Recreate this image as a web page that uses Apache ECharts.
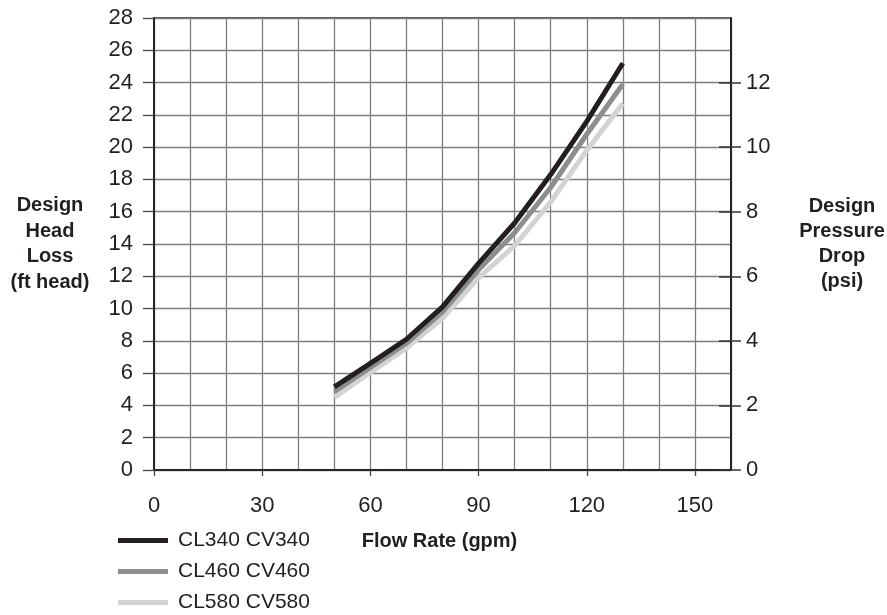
<!DOCTYPE html>
<html>
<head>
<meta charset="utf-8">
<script src="https://cdn.jsdelivr.net/npm/echarts@6/dist/echarts.min.js"></script>
<style>
html,body{margin:0;padding:0;background:#fff;}
#chart{width:887px;height:615px;}
</style>
</head>
<body>
<div id="chart"></div>
<script>
const flowRate = [50, 60, 70, 80, 90, 100, 110, 120, 130];
const cl340 = [5.15, 6.6, 8.1, 10.1, 12.8, 15.3, 18.3, 21.6, 25.2];
const cl460 = [4.85, 6.35, 7.85, 9.8, 12.4, 14.7, 17.5, 20.8, 23.9];
const cl580 = [4.5, 6.05, 7.55, 9.4, 11.9, 13.9, 16.6, 19.8, 22.7];
const seriesNames = ['CL340 CV340', 'CL460 CV460', 'CL580 CV580'];
const xTickLabels = [0, 30, 60, 90, 120, 150];
const psiTickLabels = [0, 2, 4, 6, 8, 10, 12];

const FONT = '"Liberation Sans", Arial, Helvetica, sans-serif';
const INK = '#231f20';
const colors = ['#231f20', '#8c8d8f', '#d2d3d5'];

function pairs(ys) { return flowRate.map((x, i) => [x, ys[i]]); }

function psiTickAxis(inside, len) {
  return {
    type: 'value', position: 'right', min: 0, max: 14, interval: 2, offset: 0,
    axisLine: {show: true, lineStyle: {color: INK, width: 1.5}},
    axisTick: {show: true, inside: inside, length: len, customValues: psiTickLabels, lineStyle: {color: '#333', width: 1.5}},
    axisLabel: {show: false},
    splitLine: {show: false}
  };
}

const chart = echarts.init(document.getElementById('chart'), null, {renderer: 'canvas'});
chart.setOption({
  animation: false,
  backgroundColor: '#ffffff',
  textStyle: {fontFamily: FONT, color: INK},
  grid: {left: 154, right: 156, top: 18, bottom: 145, containLabel: false, outerBoundsMode: 'none', show: true, borderColor: INK, borderWidth: 1.5, backgroundColor: 'transparent'},
  legend: {
    orient: 'vertical', left: 118, top: 530, padding: 0, itemGap: 10,
    icon: 'rect', itemWidth: 50, itemHeight: 5,
    textStyle: {fontFamily: FONT, fontSize: 21, color: INK, padding: [0, 0, 0, 5]},
    data: seriesNames
  },
  xAxis: [
    {
      type: 'value', position: 'bottom', min: 0, max: 160, interval: 10,
      axisLine: {show: true, lineStyle: {color: INK, width: 1.5}},
      axisTick: {show: false},
      axisLabel: {show: false},
      splitLine: {show: true, lineStyle: {color: '#7d7d7d', width: 1.3}}
    },
    {
      type: 'value', position: 'bottom', min: 0, max: 160, interval: 10,
      name: 'Flow Rate (gpm)', nameLocation: 'middle', nameGap: 61,
      nameTextStyle: {fontFamily: FONT, fontSize: 20, fontWeight: 'bold', color: INK, verticalAlign: 'top', padding: [0, 6, 0, 0]},
      axisLine: {show: true, lineStyle: {color: INK, width: 1.5}},
      axisTick: {show: true, length: 6, customValues: xTickLabels, lineStyle: {color: '#444', width: 1.3}},
      axisLabel: {customValues: xTickLabels, fontFamily: FONT, fontSize: 22, color: INK, margin: 25},
      splitLine: {show: false}
    }
  ],
  yAxis: [
    {
      type: 'value', position: 'left', min: 0, max: 28, interval: 2,
      name: 'Design\nHead\nLoss\n(ft head)', nameLocation: 'middle', nameRotate: 0, nameGap: 104,
      nameTextStyle: {fontFamily: FONT, fontSize: 20, fontWeight: 'bold', color: INK, align: 'center', verticalAlign: 'middle', lineHeight: 25.5, padding: [3, 0, 0, 0]},
      axisLine: {show: true, lineStyle: {color: INK, width: 1.5}},
      axisTick: {show: true, length: 11, lineStyle: {color: '#444', width: 1.3}},
      axisLabel: {fontFamily: FONT, fontSize: 22, color: INK, margin: 21},
      splitLine: {show: true, lineStyle: {color: '#7d7d7d', width: 1.3}}
    },
    {
      type: 'value', position: 'right', min: 0, max: 14, interval: 2,
      name: 'Design\nPressure\nDrop\n(psi)', nameLocation: 'middle', nameRotate: 0, nameGap: 111,
      nameTextStyle: {fontFamily: FONT, fontSize: 20, fontWeight: 'bold', color: INK, align: 'center', verticalAlign: 'middle', lineHeight: 25, padding: [13, 0, 0, 0]},
      axisLine: {show: true, lineStyle: {color: INK, width: 1.5}},
      axisTick: {show: false},
      axisLabel: {customValues: psiTickLabels, fontFamily: FONT, fontSize: 22, color: INK, margin: 15},
      splitLine: {show: false}
    },
    psiTickAxis(true, 12),
    psiTickAxis(false, 10)
  ],
  series: [
    {name: seriesNames[0], type: 'line', data: pairs(cl340), xAxisIndex: 0, yAxisIndex: 0, z: 5, showSymbol: false, symbol: 'none', color: colors[0], lineStyle: {color: colors[0], width: 5, cap: 'butt', join: 'round'}},
    {name: seriesNames[1], type: 'line', data: pairs(cl460), xAxisIndex: 0, yAxisIndex: 0, z: 4, showSymbol: false, symbol: 'none', color: colors[1], lineStyle: {color: colors[1], width: 5, cap: 'butt', join: 'round'}},
    {name: seriesNames[2], type: 'line', data: pairs(cl580), xAxisIndex: 0, yAxisIndex: 0, z: 3, showSymbol: false, symbol: 'none', color: colors[2], lineStyle: {color: colors[2], width: 5, cap: 'butt', join: 'round'}}
  ]
});
</script>
</body>
</html>
